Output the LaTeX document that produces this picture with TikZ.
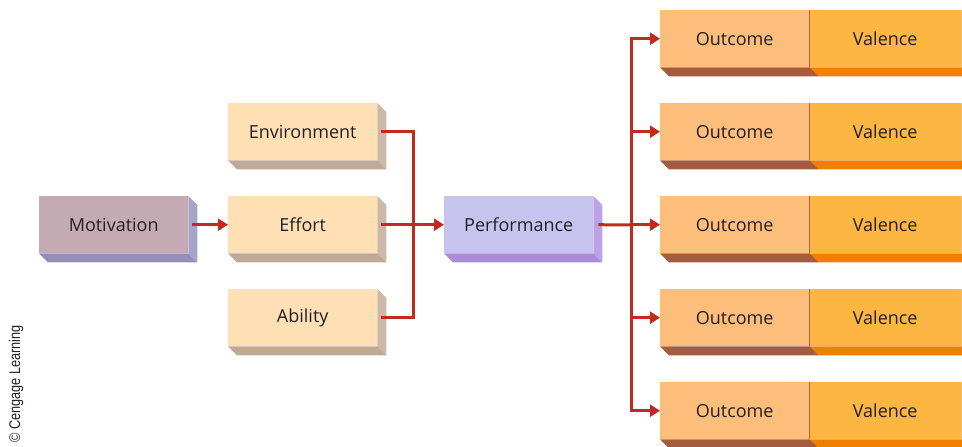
\documentclass[tikz,border=0pt]{standalone}
\usepackage{fontspec}
\setmainfont{Open Sans}
\newfontfamily\narrowfont[FakeStretch=0.82]{Liberation Sans}
\usetikzlibrary{arrows.meta}
\definecolor{txt}{HTML}{231F20}
\definecolor{arr}{HTML}{C4281F}
\definecolor{motF}{HTML}{C4ABB3}
\definecolor{motS}{HTML}{A7A3C9}
\definecolor{motB}{HTML}{958EB9}
\definecolor{envF}{HTML}{FFE0B4}
\definecolor{envS}{HTML}{CBB8A7}
\definecolor{envB}{HTML}{BFAA98}
\definecolor{perF}{HTML}{C6C3EE}
\definecolor{perS}{HTML}{BBA3E6}
\definecolor{perB}{HTML}{AB8BD8}
\definecolor{outF}{HTML}{FDBE7C}
\definecolor{outB}{HTML}{A35C40}
\definecolor{valF}{HTML}{FDB642}
\definecolor{valS}{HTML}{F39A30}
\definecolor{valB}{HTML}{EF8000}
\definecolor{divd}{HTML}{9B6A4A}
\newcommand\extrude[3]{% node, side, bottom
  \fill[#2] (#1.north east) -- ([shift={(9,9)}]#1.north east) -- ([shift={(9,9)}]#1.south east) -- (#1.south east) -- cycle;
  \fill[#3] (#1.south west) -- ([shift={(9,9)}]#1.south west) -- ([shift={(9,9)}]#1.south east) -- (#1.south east) -- cycle;}
\begin{document}
\begin{tikzpicture}[x=1pt,y=-1pt,
  face/.style={draw=none,minimum width=149pt,minimum height=57pt,inner sep=0pt,
    font=\fontsize{18}{21}\selectfont,text=txt,anchor=north west},
  conn/.style={draw=arr,line width=3pt},
  arrow/.style={conn,-{Triangle[length=10pt,width=12pt]}}]
\useasboundingbox (0,0) rectangle (962,447);
% boxes
\node[face,fill=motF] (mot) at (39,196) {Motivation};
\node[face,fill=envF] (env) at (228,103) {Environment};
\node[face,fill=envF] (eff) at (228,196) {Effort};
\node[face,fill=envF] (abl) at (228,289) {Ability};
\node[face,fill=perF] (perf) at (444,196) {Performance};
\extrude{mot}{motS}{motB}
\extrude{env}{envS}{envB}
\extrude{eff}{envS}{envB}
\extrude{abl}{envS}{envB}
\extrude{perf}{perS}{perB}
\foreach \i in {1,...,5}{
  \node[face,fill=outF] (out\i) at (660,{10+93*(\i-1)}) {Outcome};
  \node[face,fill=valF,minimum width=152pt] (val\i) at (809,{10+93*(\i-1)}) {Valence};
  \extrude{val\i}{valS}{valB}
  \fill[outB] (out\i.south west) -- ([shift={(9,9)}]out\i.south west) -- ([shift={(9,9)}]out\i.south east) -- (out\i.south east) -- cycle;
  \draw[divd,line width=0.8pt] (out\i.north east) -- (out\i.south east);
}
% connectors
\coordinate (j1) at (413,225);
\coordinate (j2) at (631,225);
\draw[arrow] ([xshift=4]mot.east) -- (eff.west);
\draw[conn] ([xshift=4]env.east) -| (j1);
\draw[conn] ([xshift=4]abl.east) -| (j1);
\draw[arrow] ([xshift=4]eff.east) -- (perf.west);
\draw[conn] ([xshift=5]perf.east) -- (j2);
\foreach \i in {1,...,5}{
  \draw[arrow] (j2) |- (out\i.west);
}
% credit
\node[rotate=90,font=\narrowfont\fontsize{15.5}{18}\selectfont,text=txt,inner sep=0pt] (cred) at (16,384) {© Cengage Learning};
\end{tikzpicture}
\end{document}
